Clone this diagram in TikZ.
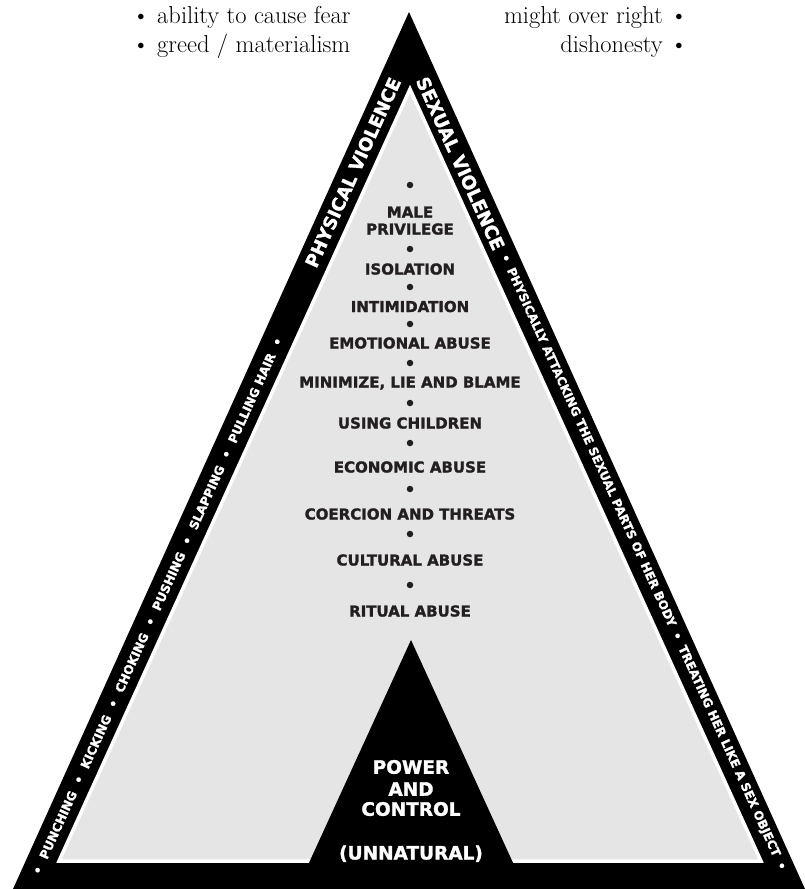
\documentclass[tikz,border=0pt]{standalone}
\usepackage{fontspec}
\newfontfamily\heavy{DejaVu Sans}[BoldFeatures={FakeBold=1.6}]
\definecolor{pgray}{HTML}{E5E5E5}
\definecolor{ink}{HTML}{231F20}
\newcommand{\bsep}{\hspace{0.75em}\textbullet\hspace{0.75em}}
\begin{document}
\begin{tikzpicture}[x=1pt,y=-1pt,
  bandtext/.style={text=white, font=\heavy\bfseries, inner sep=0pt},
  item/.style={text=ink, font=\heavy\bfseries\fontsize{15}{17}\selectfont, anchor=base, inner sep=0pt},
  pc/.style={text=white, font=\heavy\bfseries\fontsize{18.5}{20}\selectfont, anchor=base, inner sep=0pt},
  notel/.style={font=\fontsize{24.5}{28}\selectfont, anchor=base west, inner sep=0pt},
  noter/.style={font=\fontsize{24.5}{28}\selectfont, anchor=base east, inner sep=0pt},
  dotmark/.style={circle, fill=ink, minimum size=6.5pt, inner sep=0pt},
]
\useasboundingbox (0,0) rectangle (804,889);
% outer black triangle
\fill[black] (409,12) -- (13,889) -- (805,889) -- cycle;
% inner gray field with white outline
\filldraw[fill=pgray, draw=white, line width=3.5pt, line join=miter] (410,89) -- (59,861) -- (761,861) -- cycle;
% power and control triangle
\fill[black] (411,640) -- (297,889) -- (525,889) -- cycle;

% band texts
\node[bandtext, rotate=65.6] (pv) at (353,172.5) {\resizebox{206pt}{!}{PHYSICAL VIOLENCE}};
\node[bandtext, rotate=-65.6] (sv) at (460.5,163.5) {\resizebox{188pt}{!}{SEXUAL VIOLENCE}};
\node[bandtext, rotate=65.6] (pl) at (157.5,606) {\resizebox{588pt}{!}{\textbullet\hspace{0.75em}PUNCHING\bsep KICKING\bsep CHOKING\bsep PUSHING\bsep SLAPPING\bsep PULLING HAIR\hspace{0.75em}\textbullet}};
\node[bandtext, rotate=-65.6] (sl) at (643,562.5) {\resizebox{675pt}{!}{\textbullet\hspace{0.6em}PHYSICALLY ATTACKING THE SEXUAL PARTS OF HER BODY\hspace{0.6em}\textbullet\hspace{0.6em}TREATING HER LIKE A SEX OBJECT\hspace{0.6em}\textbullet}};

% centre list
\node[dotmark] (d1) at (410,185) {};
\node[item] (male) at (410,217.5) {MALE};
\node[item] (priv) at (410,234.5) {PRIVILEGE};
\node[dotmark] (d2) at (410,249) {};
\node[item] (iso) at (410,274.5) {ISOLATION};
\node[dotmark] (d3) at (410,287) {};
\node[item] (intim) at (410,312) {INTIMIDATION};
\node[dotmark] (d4) at (410,324) {};
\node[item] (emo) at (410,348.5) {EMOTIONAL ABUSE};
\node[dotmark] (d5) at (410,363) {};
\node[item] (mini) at (410,387.5) {MINIMIZE, LIE AND BLAME};
\node[dotmark] (d6) at (410,403) {};
\node[item] (using) at (410,428.5) {USING CHILDREN};
\node[dotmark] (d7) at (410,443) {};
\node[item] (econ) at (410,472.5) {ECONOMIC ABUSE};
\node[dotmark] (d8) at (410,489) {};
\node[item] (coer) at (410,519.5) {COERCION AND THREATS};
\node[dotmark] (d9) at (410,534) {};
\node[item] (cult) at (410,565.5) {CULTURAL ABUSE};
\node[dotmark] (d10) at (410,585) {};
\node[item] (rit) at (410,616.5) {RITUAL ABUSE};

% power and control
\node[pc] (power) at (411,773.75) {POWER};
\node[pc] (and) at (411,795.75) {AND};
\node[pc] (control) at (411,815.75) {CONTROL};
\node[pc] (unnat) at (411,859.5) {(UNNATURAL)};

% top notes
\node[notel] (fear) at (132,23) {\textbullet\ ability to cause fear};
\node[notel] (greed) at (132,52) {\textbullet\ greed / materialism};
\node[noter] (might) at (688,23) {might over right \textbullet};
\node[noter] (dish) at (688,52) {dishonesty \textbullet};
\end{tikzpicture}
\end{document}
